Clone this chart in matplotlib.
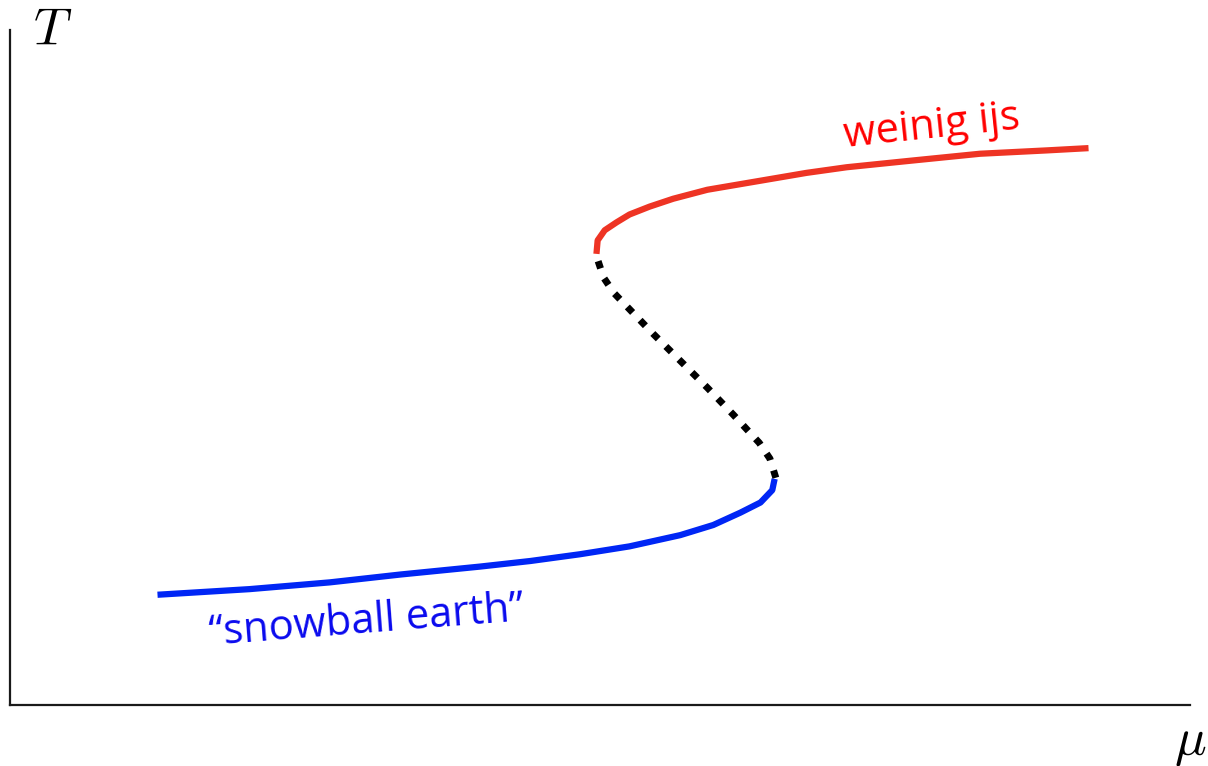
import matplotlib.pyplot as plt

plt.rcParams['mathtext.fontset'] = 'cm'

# lower (cold) branch
mu_cold = [1.25, 2.03, 2.71, 3.31, 3.98, 4.41, 4.83, 5.25, 5.68, 5.96, 6.19, 6.36, 6.46, 6.48]
T_cold = [0.98, 1.03, 1.09, 1.16, 1.23, 1.28, 1.34, 1.41, 1.51, 1.60, 1.71, 1.80, 1.91, 2.01]

# unstable middle branch
mu_mid = [6.49, 6.44, 6.35, 6.13, 5.91, 5.68, 5.45, 5.23, 5.12, 5.03, 4.97]
T_mid = [2.02, 2.19, 2.33, 2.58, 2.82, 3.06, 3.30, 3.54, 3.66, 3.80, 3.99]

# upper (warm) branch
mu_warm = [4.97, 4.98, 5.04, 5.14, 5.25, 5.42, 5.62, 5.91, 6.19, 6.47, 6.75,
           7.09, 7.65, 8.22, 8.79, 9.14]
T_warm = [4.01, 4.13, 4.22, 4.29, 4.36, 4.43, 4.50, 4.58, 4.63, 4.68, 4.73,
          4.78, 4.84, 4.90, 4.93, 4.95]

fig = plt.figure(figsize=(12.08, 7.66), dpi=100)
ax = fig.add_axes([10 / 1208, 61 / 766, 1180 / 1208, 675 / 766])

ax.plot(mu_cold, T_cold, color='#0026f5', lw=4.5, solid_capstyle='butt',
        solid_joinstyle='round')
ax.plot(mu_mid, T_mid, color='black', lw=5, dashes=(1.1, 1.55), dash_capstyle='butt')
ax.plot(mu_warm, T_warm, color='#ee3424', lw=4.5, solid_capstyle='butt',
        solid_joinstyle='round')

ax.text(7.81, 5.14, 'weinig ijs', color='#ff0000', fontsize=30, family='Open Sans',
        rotation=6, ha='center', va='center')
ax.text(3.02, 0.74, '\u201csnowball earth\u201d', color='#0a0aee', fontsize=30,
        family='Open Sans', rotation=4.5, ha='center', va='center')

ax.set_xlim(0, 10)
ax.set_ylim(0, 6)
ax.set_xticks([])
ax.set_yticks([])
for side in ['top', 'right']:
    ax.spines[side].set_visible(False)
for side in ['left', 'bottom']:
    ax.spines[side].set_linewidth(1.6)
    ax.spines[side].set_color('#1a1a1a')

fig.text(53 / 1208, 1 - 30 / 766, '$T$', fontsize=38, ha='center', va='center')
fig.text(1190 / 1208, 1 - 742 / 766, r'$\mu$', fontsize=38, ha='center', va='center')

fig.savefig('out.png', dpi=100)
